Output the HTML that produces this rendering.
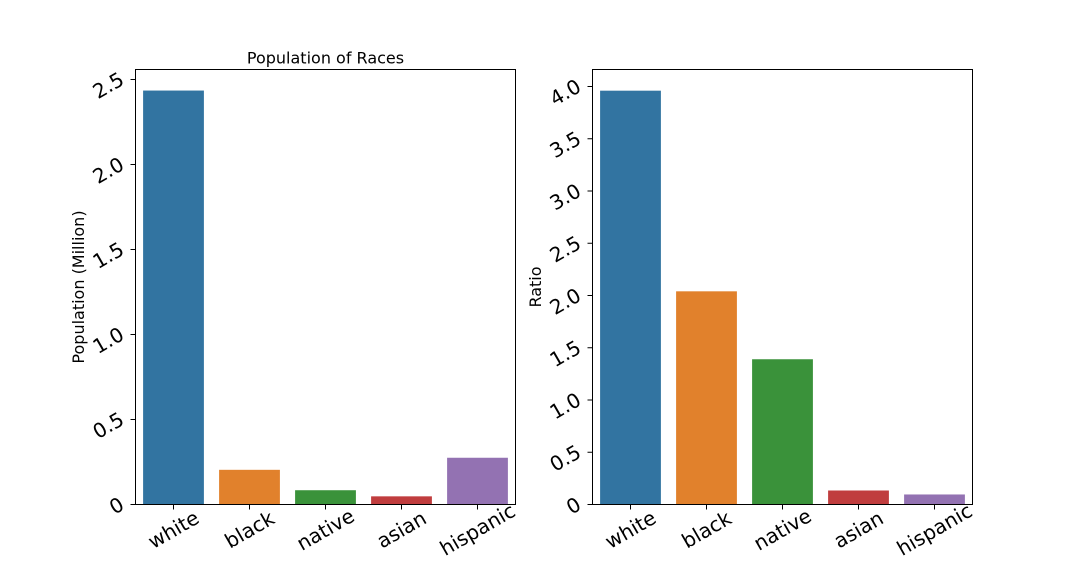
<!DOCTYPE html>
<html><head><meta charset="utf-8"><style>
body{margin:0;background:#fff}
svg text{font-family:"DejaVu Sans","Liberation Sans",sans-serif;fill:#000}
</style></head><body>
<svg id="c" width="1080" height="576" xmlns="http://www.w3.org/2000/svg"></svg>
<script>
const categories=["white","black","native","asian","hispanic"];
const popValues=[2.435,0.204,0.084,0.048,0.275];
const ratioValues=[3.96,2.04,1.39,0.134,0.096];
const popTicks=[0,0.5,1.0,1.5,2.0,2.5];
const popTickLabels=["0","0.5","1.0","1.5","2.0","2.5"];
const ratioTicks=[0,0.5,1.0,1.5,2.0,2.5,3.0,3.5,4.0];
const ratioTickLabels=["0","0.5","1.0","1.5","2.0","2.5","3.0","3.5","4.0"];
const colors=["#3274a1","#e1812c","#3a923a","#c03d3e","#9372b2"];
const svg=document.getElementById('c');
const NS="http://www.w3.org/2000/svg";
function mk(t,a,p){const e=document.createElementNS(NS,t);for(const k in a)e.setAttribute(k,a[k]);(p||svg).appendChild(e);return e;}
function panel(x0,x1,y0,y1,vals,ticks,labels,unit,ylabel,title,prefix){
  const g=mk('g',{});
  
  
  const y=v=>y1-v*unit;
  const bw=(x1-x0)/categories.length;
  categories.forEach((c,i)=>{
    const r=mk('rect',{x:x0+bw*i+bw*0.1,y:y(vals[i]),width:bw*0.8,height:y1-y(vals[i]),fill:colors[i]},g);
    
    
    const cx=x0+bw*(i+0.5);
    mk('line',{x1:cx,x2:cx,y1:y1,y2:y1+5,stroke:'#000','stroke-width':1},g);
    const t=mk('text',{x:cx,y:y1+32,'font-size':20,'text-anchor':'middle',transform:`rotate(-30 ${cx} ${y1+25})`},g);
    t.textContent=c;
    
    
  });
  ticks.forEach((v,i)=>{
    const ty=y(v);
    mk('line',{x1:x0-5,x2:x0,y1:ty,y2:ty,stroke:'#000','stroke-width':1},g);
    const t=mk('text',{x:x0-10,y:ty+12,'font-size':20,'text-anchor':'end',transform:`rotate(-30 ${x0-25} ${ty+8})`},g);
    t.textContent=labels[i];
    
    
  });
  const f=mk('rect',{x:x0,y:y0,width:x1-x0,height:y1-y0,fill:'none',stroke:'#000','stroke-width':1},g);
  
  
  const yl=mk('text',{x:0,y:0,'font-size':16,'text-anchor':'middle',transform:`translate(${ylabel[1]} ${(y0+y1)/2}) rotate(-90)`},g);
  yl.textContent=ylabel[0];
  
  
  if(title){
    const tt=mk('text',{x:(x0+x1)/2,y:y0-6,'font-size':16,'text-anchor':'middle'},g);
    tt.textContent=title;
    
    
  }
}
panel(135.5,515.5,69.5,504.5,popValues,popTicks,popTickLabels,170,["Population (Million)",84],"Population of Races","population");
panel(592.5,972.5,69.5,504.5,ratioValues,ratioTicks,ratioTickLabels,104.5,["Ratio",541],"","ratio");
</script>
</body></html>
